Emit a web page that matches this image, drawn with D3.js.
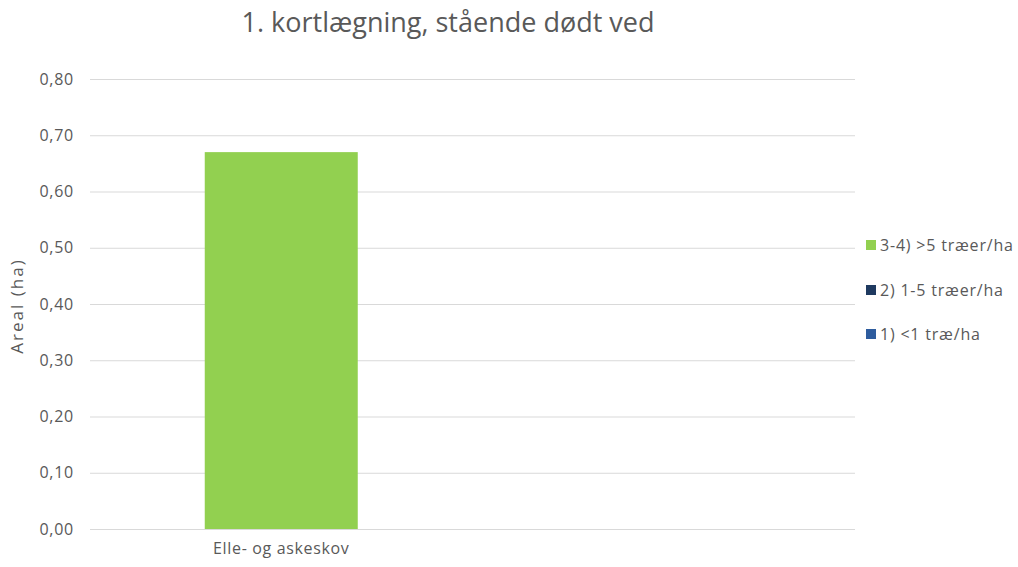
<!DOCTYPE html>
<html><head><meta charset="utf-8">
<script src="https://cdn.jsdelivr.net/npm/d3@7"></script>
<style>body{margin:0;background:#fff;} svg{display:block;}</style>
</head><body>
<svg id="c" width="1018" height="567"></svg>
<script>
const categories = ["Elle- og askeskov", ""];
const seriesNames = ["1) <1 træ/ha", "2) 1-5 træer/ha", "3-4) >5 træer/ha"];
const seriesColors = ["#2E5C9E", "#1F3A60", "#92D050"];
const s1 = [0, 0];
const s2 = [0, 0];
const s3 = [0.67, 0];
const yTicks = [0, 0.1, 0.2, 0.3, 0.4, 0.5, 0.6, 0.7, 0.8];
const title = "1. kortlægning, stående dødt ved";
const yLabel = "Areal (ha)";

const svg = d3.select("#c");
const font = "'Open Sans', sans-serif";
const m = {l: 90, r: 855, t: 79, b: 529};
const x = d3.scaleBand().domain(categories).range([m.l, m.r]).paddingInner(0.6).paddingOuter(0.3);
const y = d3.scaleLinear().domain([0, 0.8]).range([m.b, m.t]);

svg.append("text").attr("x", 448).attr("y", 32).attr("text-anchor", "middle")
  .attr("font-family", font).attr("font-size", 27).attr("fill", "#595959").text(title);

const yAxis = svg.append("g").attr("transform", `translate(${m.l},0)`)
  .call(d3.axisLeft(y).tickValues(yTicks).tickSize(-(m.r - m.l)).tickPadding(16)
    .tickFormat(d => d3.format(".2f")(d).replace(".", ",")));
yAxis.select(".domain").remove();
yAxis.selectAll("line").attr("stroke", "#d9d9d9").attr("stroke-width", 1);
yAxis.selectAll("text").attr("font-family", font).attr("font-size", 16).attr("letter-spacing", 0.75).attr("fill", "#595959");

const data = categories.map((c, i) => ({cat: c, s1: s1[i], s2: s2[i], s3: s3[i]}));
const stack = d3.stack().keys(["s1", "s2", "s3"])(data);
svg.append("g").selectAll("g").data(stack).join("g")
  .attr("fill", (d, i) => seriesColors[i])
  .selectAll("rect").data(d => d).join("rect")
  .attr("x", d => x(d.data.cat)).attr("width", x.bandwidth())
  .attr("y", d => y(d[1])).attr("height", d => y(d[0]) - y(d[1]));

const xAxis = svg.append("g").attr("transform", `translate(0,${m.b})`)
  .call(d3.axisBottom(x).tickSize(0).tickPadding(14));
xAxis.select(".domain").remove();
xAxis.selectAll("text").attr("font-family", font).attr("font-size", 16).attr("letter-spacing", 0.65).attr("fill", "#595959");

svg.append("text").attr("transform", `translate(23,306) rotate(-90)`).attr("text-anchor", "middle")
  .attr("font-family", font).attr("font-size", 17).attr("letter-spacing", 2).attr("fill", "#595959").text(yLabel);

const legendOrder = [2, 1, 0];
const legendY = [245, 290, 334];
const lg = svg.append("g");
legendOrder.forEach((si, k) => {
  lg.append("rect").attr("x", 866).attr("y", legendY[k] - 5).attr("width", 10).attr("height", 10).attr("fill", seriesColors[si]);
  lg.append("text").attr("x", 880).attr("y", legendY[k] + 6).attr("font-family", font).attr("font-size", 16)
    .attr("letter-spacing", 0.8).attr("fill", "#595959").text(seriesNames[si]);
});
</script>
</body></html>
